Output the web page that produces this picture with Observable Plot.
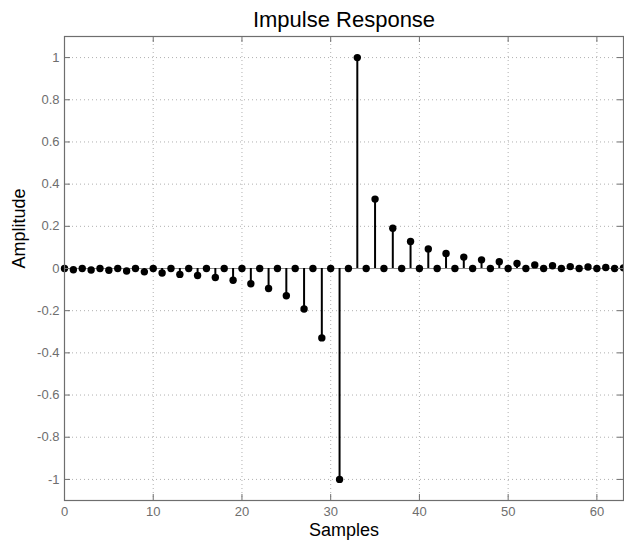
<!DOCTYPE html>
<html><head><meta charset="utf-8">
<script src="https://cdn.jsdelivr.net/npm/d3@7"></script>
<script src="https://cdn.jsdelivr.net/npm/@observablehq/plot@0.6"></script>
<style>body{margin:0;background:#fff} svg{display:block}</style>
</head><body><div id="chart"></div>
<script>
const samples = [0,1,2,3,4,5,6,7,8,9,10,11,12,13,14,15,16,17,18,19,20,21,22,23,24,25,26,27,28,29,30,31,
  32,33,34,35,36,37,38,39,40,41,42,43,44,45,46,47,48,49,50,51,52,53,54,55,56,57,58,59,60,61,62,63];
const amplitude = [0,-0.006,0,-0.007,0,-0.008,0,-0.012,0,-0.016,0,-0.021,0,-0.028,0,-0.033,
  0,-0.043,0,-0.056,0,-0.072,0,-0.095,0,-0.129,0,-0.192,0,-0.329,0,-1,
  0,1,0,0.329,0,0.191,0,0.128,0,0.093,0,0.071,0,0.054,0,0.041,
  0,0.032,0,0.024,0,0.017,0,0.013,0,0.009,0,0.007,0,0.005,0,0.003];
const xTicks = [0,10,20,30,40,50,60];
const yTicks = [-1,-0.8,-0.6,-0.4,-0.2,0,0.2,0.4,0.6,0.8,1];
const title = "Impulse Response";
const xLabel = "Samples";
const yLabel = "Amplitude";

const data = samples.map((s,i) => ({s, a: amplitude[i]}));
const W = 624, H = 545, mL = 64, mR = 1, mT = 36, mB = 45;
const fw = W - mL - mR, fh = H - mT - mB;
const axisGray = "#6e6e6e";
const fmt = d => String(+d.toFixed(1));

const chart = Plot.plot({
  width: W, height: H,
  marginLeft: mL, marginRight: mR, marginTop: mT, marginBottom: mB,
  style: {fontFamily: "'Liberation Sans', Arial, sans-serif", background: "#fff"},
  x: {domain: [0, 63]},
  y: {domain: [-1.1, 1.1]},
  marks: [
    Plot.gridX(xTicks, {stroke: "#b0b0b0", strokeOpacity: 1, strokeDasharray: "1,3"}),
    Plot.gridY(yTicks, {stroke: "#b0b0b0", strokeOpacity: 1, strokeDasharray: "1,3"}),
    Plot.ruleY([0], {stroke: "#8a8a8a", strokeWidth: 1}),
    Plot.ruleX(data, {x: "s", y1: 0, y2: "a", stroke: "black", strokeWidth: 2}),
    Plot.dot(data, {x: "s", y: "a", r: 3.7, fill: "black", stroke: "none"}),
    Plot.frame({stroke: axisGray, strokeWidth: 1.2}),
    Plot.tickX(xTicks, {x: d => d, insetTop: fh - 6, stroke: axisGray}),
    Plot.tickX(xTicks, {x: d => d, insetBottom: fh - 6, stroke: axisGray}),
    Plot.tickY(yTicks, {y: d => d, insetRight: fw - 6, stroke: axisGray}),
    Plot.tickY(yTicks, {y: d => d, insetLeft: fw - 6, stroke: axisGray}),
    Plot.axisX(xTicks, {tickSize: 0, tickPadding: 6, tickFormat: fmt, fontSize: 13, fill: axisGray, label: null}),
    Plot.axisY(yTicks, {tickSize: 0, tickPadding: 5, tickFormat: fmt, fontSize: 13, fill: axisGray, label: null}),
    Plot.text([title], {frameAnchor: "top", dy: -17, fontSize: 22, fill: "black", lineAnchor: "middle"}),
    Plot.text([xLabel], {frameAnchor: "bottom", dy: 30, fontSize: 18, fill: "black", lineAnchor: "middle"}),
    Plot.text([yLabel], {frameAnchor: "left", dx: -45, rotate: -90, fontSize: 18, fill: "black", lineAnchor: "middle"})
  ]
});
document.getElementById("chart").append(chart);
</script>
</body></html>
